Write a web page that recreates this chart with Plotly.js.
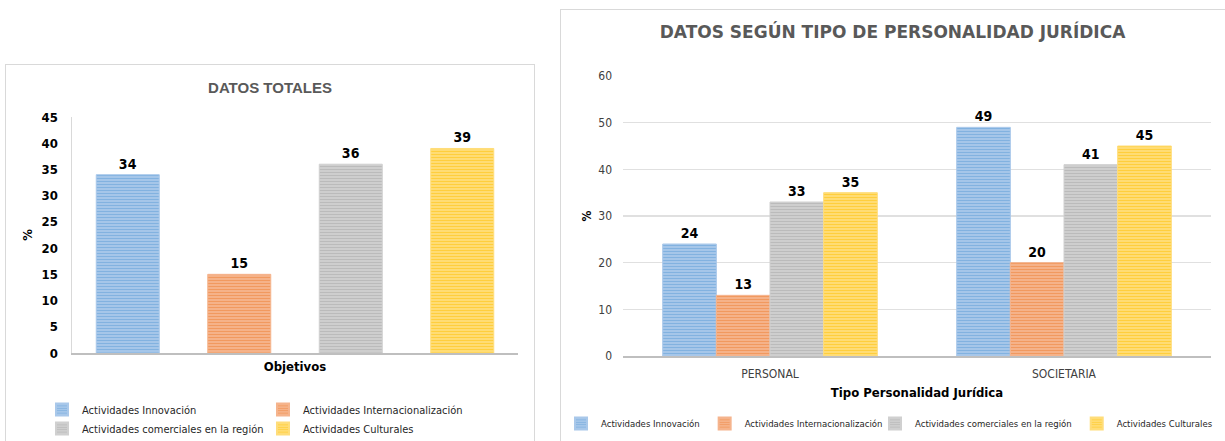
<!DOCTYPE html>
<html>
<head>
<meta charset="utf-8">
<script src="https://cdn.plot.ly/plotly-3.0.1.min.js"></script>
<style>
  html, body { margin:0; padding:0; background:#ffffff; width:1225px; height:441px; overflow:hidden; }
  #left { position:absolute; left:5px; top:64px; width:528px; height:380px; border:1px solid #d9d9d9; }
  #right { position:absolute; left:560px; top:9px; width:669px; height:440px; border:1px solid #d9d9d9; }
</style>
</head>
<body>
<div id="left"></div>
<div id="right"></div>
<script>
// ---- data ----
const seriesNames = ["Actividades Innovación", "Actividades Internacionalización", "Actividades comerciales en la región", "Actividades Culturales"];
const totalValues = [34, 15, 36, 39];
const tipos = ["PERSONAL", "SOCIETARIA"];
const innovacion = [24, 49];
const internacionalizacion = [13, 20];
const comerciales = [33, 41];
const culturales = [35, 45];

// ---- styles ----
const fg = ["#5B9BD5", "#ED7D31", "#A5A5A5", "#FFC000"];
const bg = ["#A9C8EA", "#F5B48D", "#D0D0D0", "#FFDD7A"];
const FONT = "'Liberation Sans Narrow', 'DejaVu Sans Condensed', 'Liberation Sans', sans-serif";

function markerFor(i) {
  return {
    color: bg[i],
    line: { color: bg[i], width: 1 },
    pattern: { shape: "-", fgcolor: fg[i], bgcolor: bg[i], size: 3, solidity: 0.4, fillmode: "overlay" }
  };
}

// ---- left chart ----
const leftTraces = seriesNames.map((name, i) => ({
  type: "bar",
  name: name,
  x: [name],
  y: [totalValues[i]],
  text: [String(totalValues[i])],
  textposition: "outside",
  cliponaxis: false,
  textfont: { family: FONT, size: 14, color: "#000000", weight: "bold" },
  marker: markerFor(i)
}));

const leftLayout = {
  width: 528, height: 380,
  margin: { l: 66, r: 16, t: 52, b: 92 },
  paper_bgcolor: "#ffffff", plot_bgcolor: "#ffffff",
  barmode: "overlay",
  bargap: 0.435,
  showlegend: true,
  font: { family: FONT, color: "#000000" },
  title: {
    text: "DATOS TOTALES",
    font: { family: "'Liberation Sans', sans-serif", size: 15, color: "#595959", weight: "bold" },
    x: 0.5, xref: "container", xanchor: "center",
    y: 1 - 23 / 380, yref: "container", yanchor: "middle"
  },
  xaxis: {
    type: "category",
    categoryorder: "array", categoryarray: seriesNames,
    showticklabels: false, ticks: "",
    showline: true, linecolor: "#bfbfbf", linewidth: 1.5,
    showgrid: false, zeroline: false,
    title: { text: "Objetivos", font: { family: FONT, size: 13, color: "#000000", weight: "bold" }, standoff: 8 }
  },
  yaxis: {
    range: [0, 45], dtick: 5, tick0: 0,
    showgrid: false, zeroline: false,
    showline: true, linecolor: "#d9d9d9", linewidth: 1.5,
    ticks: "", ticklabelstandoff: 10,
    tickfont: { family: FONT, size: 13, color: "#000000", weight: "bold" },
    title: { text: "%", font: { family: FONT, size: 13, color: "#000000", weight: "bold" }, standoff: 6 }
  },
  legend: {
    orientation: "h",
    xref: "container", yref: "container",
    x: 36 / 528, xanchor: "left",
    y: 1 - 330 / 380, yanchor: "top",
    entrywidth: 176,
    font: { family: FONT, size: 11, color: "#262626" },
    tracegroupgap: 0,
    itemsizing: "constant"
  },
  hovermode: false
};

// ---- right chart ----
const rightSeries = [innovacion, internacionalizacion, comerciales, culturales];
const rightTraces = rightSeries.map((vals, i) => ({
  type: "bar",
  name: seriesNames[i],
  legend: i < 2 ? "legend" : "legend2",
  x: tipos,
  y: vals,
  text: vals.map(String),
  textposition: "outside",
  cliponaxis: false,
  textfont: { family: FONT, size: 14, color: "#000000", weight: "bold" },
  marker: markerFor(i)
}));

const rightLegendBase = {
  orientation: "h",
  xref: "container", yref: "container",
  xanchor: "left",
  y: 1 - 399 / 440, yanchor: "top",
  font: { family: FONT, size: 9.5, color: "#262626" },
  itemsizing: "constant",
  bgcolor: "rgba(0,0,0,0)"
};

const rightLayout = {
  width: 669, height: 440,
  margin: { l: 62, r: 19, t: 66, b: 94 },
  paper_bgcolor: "#ffffff", plot_bgcolor: "#ffffff",
  barmode: "group",
  bargap: 0.27, bargroupgap: 0,
  showlegend: true,
  font: { family: FONT, color: "#000000" },
  title: {
    text: "DATOS SEGÚN TIPO DE PERSONALIDAD JURÍDICA",
    font: { family: "'DejaVu Sans', sans-serif", size: 17, color: "#595959", weight: "bold" },
    x: 331.5 / 669, xref: "container", xanchor: "center",
    y: 1 - 22 / 440, yref: "container", yanchor: "middle"
  },
  xaxis: {
    type: "category",
    showline: true, linecolor: "#bfbfbf", linewidth: 1.5,
    ticks: "", ticklabelstandoff: 6,
    tickfont: { family: FONT, size: 12, color: "#404040" },
    showgrid: false, zeroline: false,
    title: { text: "Tipo Personalidad Jurídica", font: { family: FONT, size: 13, color: "#000000", weight: "bold" }, standoff: 8 }
  },
  yaxis: {
    range: [0, 60], dtick: 10, tick0: 0,
    showgrid: true, gridcolor: "#e0e0e0", gridwidth: 1.5,
    zeroline: false, showline: false,
    ticks: "", ticklabelstandoff: 10,
    tickfont: { family: FONT, size: 12, color: "#404040" },
    title: { text: "%", font: { family: FONT, size: 12, color: "#000000", weight: "bold" }, standoff: 4 }
  },
  legend: Object.assign({}, rightLegendBase, { x: 0 }),
  legend2: Object.assign({}, rightLegendBase, { x: 314 / 669 }),
  hovermode: false
};

const cfg = { displayModeBar: false, staticPlot: true };
Plotly.newPlot("left", leftTraces, leftLayout, cfg);
Plotly.newPlot("right", rightTraces, rightLayout, cfg);
</script>
</body>
</html>
